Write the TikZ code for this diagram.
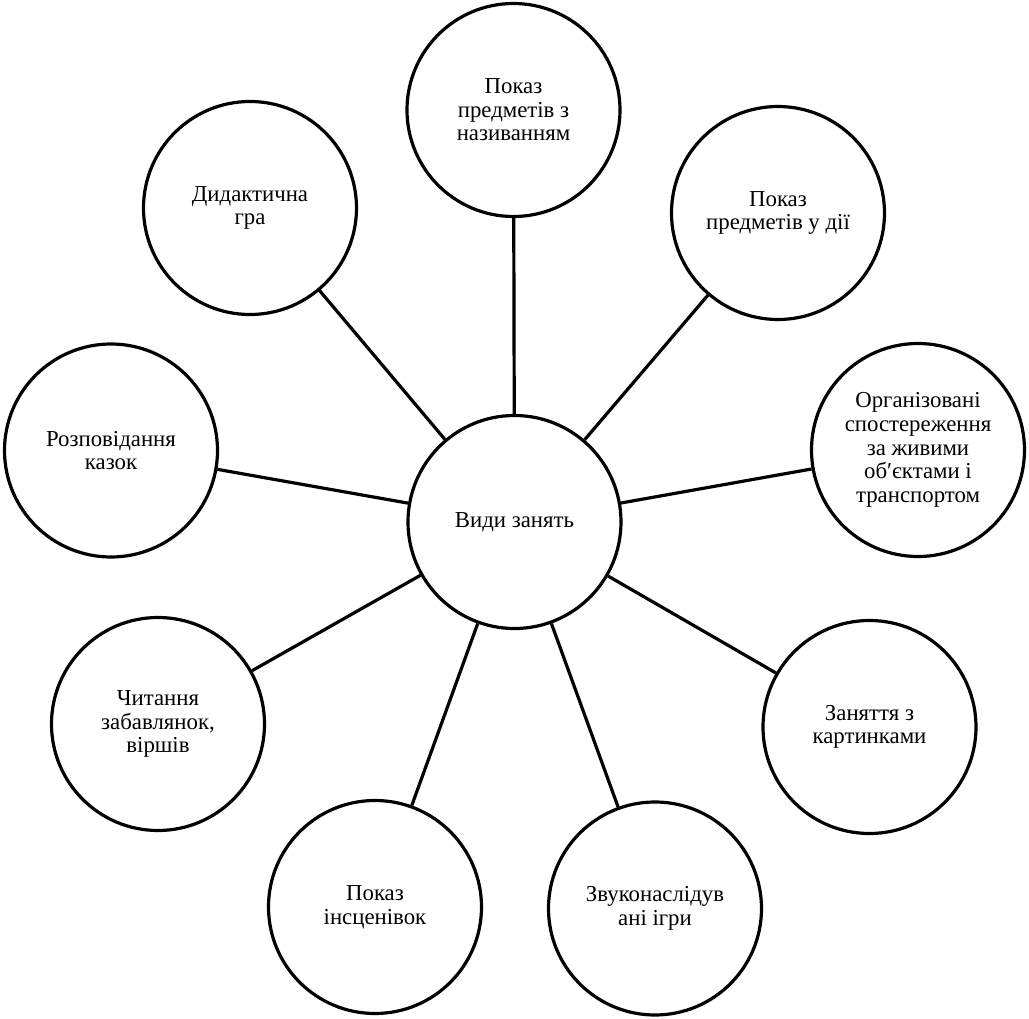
\documentclass[tikz,border=0pt]{standalone}
\usepackage{fontspec}
\setmainfont{Liberation Serif}
\newfontfamily\tnrfont{Liberation Serif}
\begin{document}
\begin{tikzpicture}[x=1pt,y=-1pt,
  bubble/.style={circle,draw=black,line width=3.2pt,fill=white,minimum size=213pt,inner sep=0pt,
    align=center,font=\tnrfont\fontsize{22.8}{23.6}\selectfont},
  link/.style={draw=black,line width=3.2pt}]
\useasboundingbox (0,0) rectangle (1029,1019);
\node[bubble] (c)  at (514.5,522) {Види занять};
\node[bubble] (n1) at (513.5,110) {Показ\\предметів з\\називанням};
\node[bubble] (n2) at (778,213) {Показ\\предметів у дії};
\node[bubble] (n3) at (918,450) {Організовані\\спостереження\\за живими\\об′єктами і\\транспортом};
\node[bubble] (n4) at (869.5,727) {Заняття з\\картинками};
\node[bubble] (n5) at (655,908.5) {Звуконаслідув\\ані ігри};
\node[bubble] (n6) at (375,907) {Показ\\інсценівок};
\node[bubble] (n7) at (158,724) {Читання\\забавлянок,\\віршів};
\node[bubble] (n8) at (111,450.5) {Розповідання\\казок};
\node[bubble] (n9) at (250,208) {Дидактична\\гра};
\foreach \n in {n1,n2,n3,n4,n5,n6,n7,n8,n9}
  \draw[link] (c) -- (\n);
\end{tikzpicture}
\end{document}
